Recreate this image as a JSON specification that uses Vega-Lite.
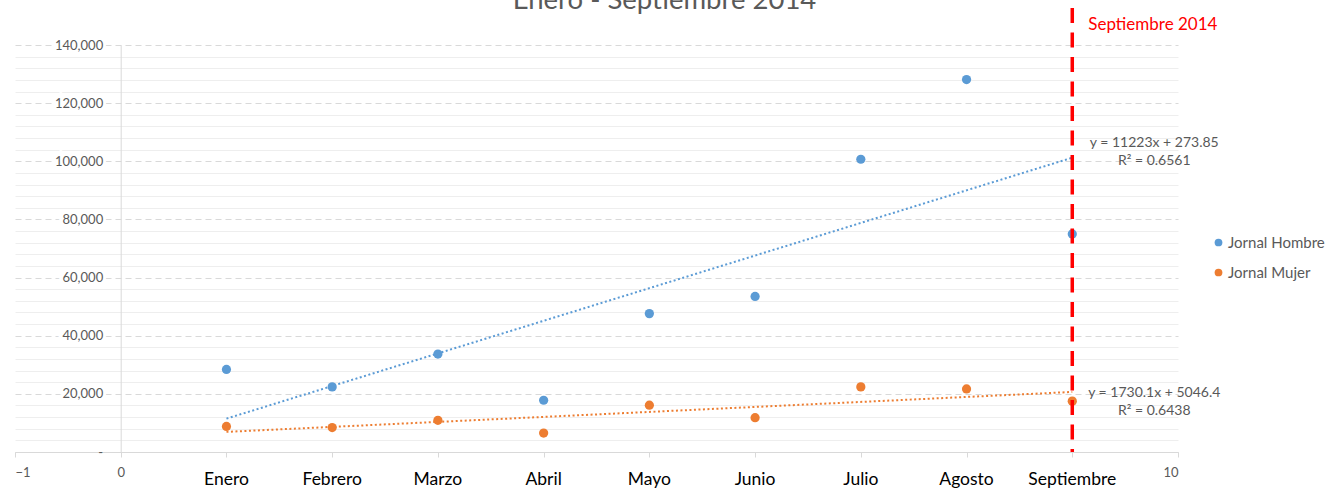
{
  "$schema": "https://vega.github.io/schema/vega-lite/v6.json",
  "width": 1163,
  "height": 407,
  "autosize": {"type": "none"},
  "padding": {"left": 15, "top": 45, "right": 153, "bottom": 36},
  "background": "white",
  "config": {
    "font": "Lato",
    "view": {"stroke": null},
    "axis": {"labelFont": "Lato", "titleFont": "Lato"},
    "legend": {"labelFont": "Lato"}
  },
  "title": {
    "text": "Enero - Septiembre 2014",
    "font": "Lato",
    "fontSize": 27.5,
    "fontWeight": "normal",
    "color": "#595959",
    "anchor": "middle",
    "dx": 68,
    "offset": -8
  },
  "datasets": {
    "jornales": [
      {"mes": 1, "nombre": "Enero", "Jornal Hombre": 28400, "Jornal Mujer": 8800},
      {"mes": 2, "nombre": "Febrero", "Jornal Hombre": 22400, "Jornal Mujer": 8400},
      {"mes": 3, "nombre": "Marzo", "Jornal Hombre": 33700, "Jornal Mujer": 10900},
      {"mes": 4, "nombre": "Abril", "Jornal Hombre": 17800, "Jornal Mujer": 6500},
      {"mes": 5, "nombre": "Mayo", "Jornal Hombre": 47600, "Jornal Mujer": 16100},
      {"mes": 6, "nombre": "Junio", "Jornal Hombre": 53500, "Jornal Mujer": 11800},
      {"mes": 7, "nombre": "Julio", "Jornal Hombre": 100700, "Jornal Mujer": 22400},
      {"mes": 8, "nombre": "Agosto", "Jornal Hombre": 128100, "Jornal Mujer": 21700},
      {"mes": 9, "nombre": "Septiembre", "Jornal Hombre": 75000, "Jornal Mujer": 17500}
    ],
    "marcas": [
      {"valor": 20000}, {"valor": 40000}, {"valor": 60000}, {"valor": 80000},
      {"valor": 100000}, {"valor": 120000}, {"valor": 140000}
    ]
  },
  "layer": [
    {
      "data": {"name": "jornales"},
      "transform": [
        {"regression": "Jornal Hombre", "on": "mes", "extent": [1, 9]}
      ],
      "mark": {"type": "line", "strokeWidth": 2, "strokeDash": [2, 2.5], "color": "#5B9BD5"},
      "encoding": {
        "x": {"field": "mes", "type": "quantitative"},
        "y": {
          "field": "Jornal Hombre", "type": "quantitative",
          "axis": {
            "orient": "left", "title": null, "labels": false, "ticks": false, "domain": false,
            "grid": true, "gridColor": "#D9D9D9", "gridDash": [6, 4], "gridWidth": 1,
            "values": [0, 20000, 40000, 60000, 80000, 100000, 120000, 140000]
          }
        }
      }
    },
    {
      "data": {"name": "jornales"},
      "transform": [
        {"regression": "Jornal Mujer", "on": "mes", "extent": [1, 9]}
      ],
      "mark": {"type": "line", "strokeWidth": 2, "strokeDash": [2, 2.5], "color": "#ED7D31"},
      "encoding": {
        "x": {"field": "mes", "type": "quantitative"},
        "y": {"field": "Jornal Mujer", "type": "quantitative", "axis": null}
      }
    },
    {
      "data": {"name": "jornales"},
      "transform": [{"fold": ["Jornal Hombre", "Jornal Mujer"], "as": ["serie", "valor"]}],
      "mark": {"type": "circle", "size": 85, "opacity": 1},
      "encoding": {
        "x": {
          "field": "mes", "type": "quantitative",
          "scale": {"domain": [-1, 10], "nice": false, "zero": false},
          "axis": {
            "title": null, "grid": false, "format": "d",
            "values": [-1, 0, 1, 2, 3, 4, 5, 6, 7, 8, 9, 10],
            "labelExpr": "datum.value === -1 || datum.value === 0 || datum.value === 10 ? datum.label : ''",
            "domainColor": "#D9D9D9", "tickColor": "#D9D9D9", "tickSize": 5,
            "labelColor": "#595959", "labelFontSize": 13, "labelPadding": 9
          }
        },
        "y": {
          "field": "valor", "type": "quantitative",
          "scale": {"domain": [0, 140000], "nice": false},
          "axis": {
            "orient": "left", "title": null, "labels": false, "ticks": false, "domain": false,
            "grid": true, "gridWidth": 1,
            "gridColor": {"condition": {"test": "datum.value % 20000 === 0", "value": "transparent"}, "value": "#EEEEEE"},
            "values": [0, 4000, 8000, 12000, 16000, 20000, 24000, 28000, 32000, 36000, 40000, 44000, 48000, 52000, 56000, 60000, 64000, 68000, 72000, 76000, 80000, 84000, 88000, 92000, 96000, 100000, 104000, 108000, 112000, 116000, 120000, 124000, 128000, 132000, 136000, 140000]
          }
        },
        "color": {
          "field": "serie", "type": "nominal",
          "scale": {"domain": ["Jornal Hombre", "Jornal Mujer"], "range": ["#5B9BD5", "#ED7D31"]},
          "legend": {
            "title": null, "orient": "none", "legendX": 1196, "legendY": 190,
            "symbolType": "circle", "symbolSize": 60, "symbolStrokeWidth": 0,
            "labelFontSize": 15, "labelColor": "#595959", "labelOffset": 2,
            "rowPadding": 14, "padding": 0
          }
        }
      }
    },
    {
      "data": {"name": "marcas"},
      "mark": {"type": "text", "align": "right", "baseline": "middle", "dx": -18, "fontSize": 13, "fill": "white", "stroke": "white", "strokeWidth": 7},
      "encoding": {
        "x": {"datum": 0, "type": "quantitative"},
        "y": {
          "field": "valor", "type": "quantitative",
          "axis": {
            "orient": "left", "title": null, "offset": -105.7, "zindex": 1,
            "grid": false, "ticks": false, "domain": true, "domainColor": "#D9D9D9",
            "labelColor": "#595959", "labelFontSize": 13, "labelPadding": 18, "format": ",.0f",
            "labelExpr": "datum.value === 0 ? '-' : datum.label",
            "values": [0, 20000, 40000, 60000, 80000, 100000, 120000, 140000]
          }
        },
        "text": {"field": "valor", "type": "quantitative", "format": ",.0f"}
      }
    },
    {
      "data": {"name": "jornales"},
      "transform": [{"filter": "datum.mes === 9"}],
      "mark": {"type": "rule", "color": "#FF0000", "strokeWidth": 3.5, "strokeDash": [15, 9.5]},
      "encoding": {
        "x": {"field": "mes", "type": "quantitative"},
        "y": {"datum": 152700, "type": "quantitative", "axis": null},
        "y2": {"datum": 0}
      }
    },
    {
      "data": {"name": "jornales"},
      "transform": [{"filter": "datum.mes === 9"}],
      "mark": {"type": "text", "text": "Septiembre 2014", "align": "left", "baseline": "alphabetic", "dx": 16, "fontSize": 17, "color": "#FF0000"},
      "encoding": {
        "x": {"field": "mes", "type": "quantitative"},
        "y": {"datum": 145000, "type": "quantitative", "axis": null}
      }
    },
    {
      "data": {"name": "jornales"},
      "transform": [
        {"regression": "Jornal Hombre", "on": "mes", "extent": [1, 9]},
        {"filter": "datum.mes > 8.5"}
      ],
      "mark": {"type": "text", "text": ["y = 11223x + 273.85", "R² = 0.6561"], "align": "center", "baseline": "middle", "dx": 82, "dy": -14.5, "fontSize": 14, "lineHeight": 18, "color": "#595959"},
      "encoding": {
        "x": {"field": "mes", "type": "quantitative"},
        "y": {"field": "Jornal Hombre", "type": "quantitative", "axis": null}
      }
    },
    {
      "data": {"name": "jornales"},
      "transform": [
        {"regression": "Jornal Mujer", "on": "mes", "extent": [1, 9]},
        {"filter": "datum.mes > 8.5"}
      ],
      "mark": {"type": "text", "text": ["y = 1730.1x + 5046.4", "R² = 0.6438"], "align": "center", "baseline": "middle", "dx": 82, "dy": 1, "fontSize": 14, "lineHeight": 18, "color": "#595959"},
      "encoding": {
        "x": {"field": "mes", "type": "quantitative"},
        "y": {"field": "Jornal Mujer", "type": "quantitative", "axis": null}
      }
    },
    {
      "data": {"name": "jornales"},
      "mark": {"type": "text", "align": "center", "baseline": "alphabetic", "dy": 33, "fontSize": 17.5, "color": "#000000"},
      "encoding": {
        "x": {"field": "mes", "type": "quantitative"},
        "y": {"datum": 0, "type": "quantitative", "axis": null},
        "text": {"field": "nombre", "type": "nominal"}
      }
    }
  ],
  "resolve": {"axis": {"y": "independent"}}
}
